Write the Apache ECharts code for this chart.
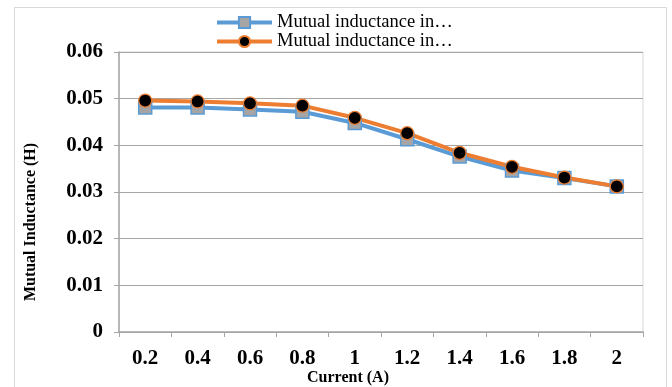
<!DOCTYPE html>
<html>
<head>
<meta charset="utf-8">
<script src="https://cdn.jsdelivr.net/npm/echarts@6/dist/echarts.min.js"></script>
<style>
  html, body { margin: 0; padding: 0; background: #fff; }
  #chart { width: 672px; height: 387px; }
</style>
</head>
<body>
<div id="chart"></div>
<script>
// Current (A) on the horizontal axis
const currents = ['0.2', '0.4', '0.6', '0.8', '1', '1.2', '1.4', '1.6', '1.8', '2'];
// Mutual inductance (H), first series (square markers)
const inductanceA = [0.0481, 0.0481, 0.0477, 0.0472, 0.0448, 0.0413, 0.0376, 0.0346, 0.0330, 0.0312];
// Mutual inductance (H), second series (round markers)
const inductanceB = [0.0496, 0.0494, 0.0490, 0.0485, 0.0459, 0.0426, 0.0384, 0.0354, 0.0331, 0.0312];
const seriesNames = ['Mutual inductance in A', 'Mutual inductance in B'];
const legendLabel = 'Mutual inductance in…';

const serif = '"Liberation Serif", "Times New Roman", serif';
const chart = echarts.init(document.getElementById('chart'), null, { renderer: 'canvas' });

chart.setOption({
  animation: false,
  backgroundColor: '#fff',
  graphic: [{
    type: 'rect',
    shape: { x: 14.5, y: 7.5, width: 652, height: 390 },
    style: { fill: 'none', stroke: '#d9d9d9', lineWidth: 1 },
    silent: true
  }],
  legend: {
    orient: 'vertical',
    left: 210,
    top: 8,
    itemWidth: 55,
    itemHeight: 14,
    itemGap: 0,
    formatter: () => legendLabel,
    lineStyle: { width: 4 },
    textStyle: { fontFamily: serif, fontSize: 18.5, lineHeight: 15, color: '#000' },
    data: seriesNames
  },
  grid: {
    left: 119, right: 29, top: 52, bottom: 55,
    outerBoundsMode: 'none',
    show: true, borderColor: '#d9d9d9', borderWidth: 1
  },
  xAxis: {
    type: 'category',
    data: currents,
    boundaryGap: true,
    name: 'Current (A)',
    nameLocation: 'middle',
    nameGap: 38,
    nameMoveOverlap: false,
    nameTextStyle: {
      fontFamily: serif, fontSize: 16, fontWeight: 'bold', color: '#000',
      padding: [0, 66, 0, 0]
    },
    axisLine: { lineStyle: { color: '#a6a6a6', width: 1.5 } },
    axisTick: { show: true, length: 5, lineStyle: { color: '#a6a6a6' } },
    axisLabel: { fontFamily: serif, fontSize: 21, fontWeight: 'bold', color: '#000', margin: 16 }
  },
  yAxis: {
    type: 'value',
    min: 0, max: 0.06, interval: 0.01,
    name: 'Mutual Inductance (H)',
    nameLocation: 'middle',
    nameRotate: 90,
    nameGap: 80,
    nameMoveOverlap: false,
    nameTextStyle: {
      fontFamily: serif, fontSize: 16, fontWeight: 'bold', color: '#000',
      padding: [0, 60, 0, 0]
    },
    axisLine: { show: true, lineStyle: { color: '#a6a6a6', width: 1.5 } },
    axisTick: { show: true, length: 5, lineStyle: { color: '#a6a6a6' } },
    splitLine: { lineStyle: { color: '#a6a6a6', width: 1.2 } },
    axisLabel: {
      fontFamily: serif, fontSize: 21, fontWeight: 'bold', color: '#000', margin: 16,
      formatter: v => (v === 0 ? '0' : String(+v.toFixed(2)))
    }
  },
  series: [
    {
      name: seriesNames[0],
      type: 'line',
      data: inductanceA,
      symbol: 'rect',
      symbolSize: 13,
      lineStyle: { color: '#5b9bd5', width: 4 },
      itemStyle: { color: '#a5a5a5', borderColor: '#5b9bd5', borderWidth: 1.5 }
    },
    {
      name: seriesNames[1],
      type: 'line',
      data: inductanceB,
      symbol: 'circle',
      symbolSize: 13,
      lineStyle: { color: '#ed7d31', width: 4 },
      itemStyle: { color: '#000', borderColor: '#ed7d31', borderWidth: 1.2 }
    }
  ]
});
</script>
</body>
</html>
